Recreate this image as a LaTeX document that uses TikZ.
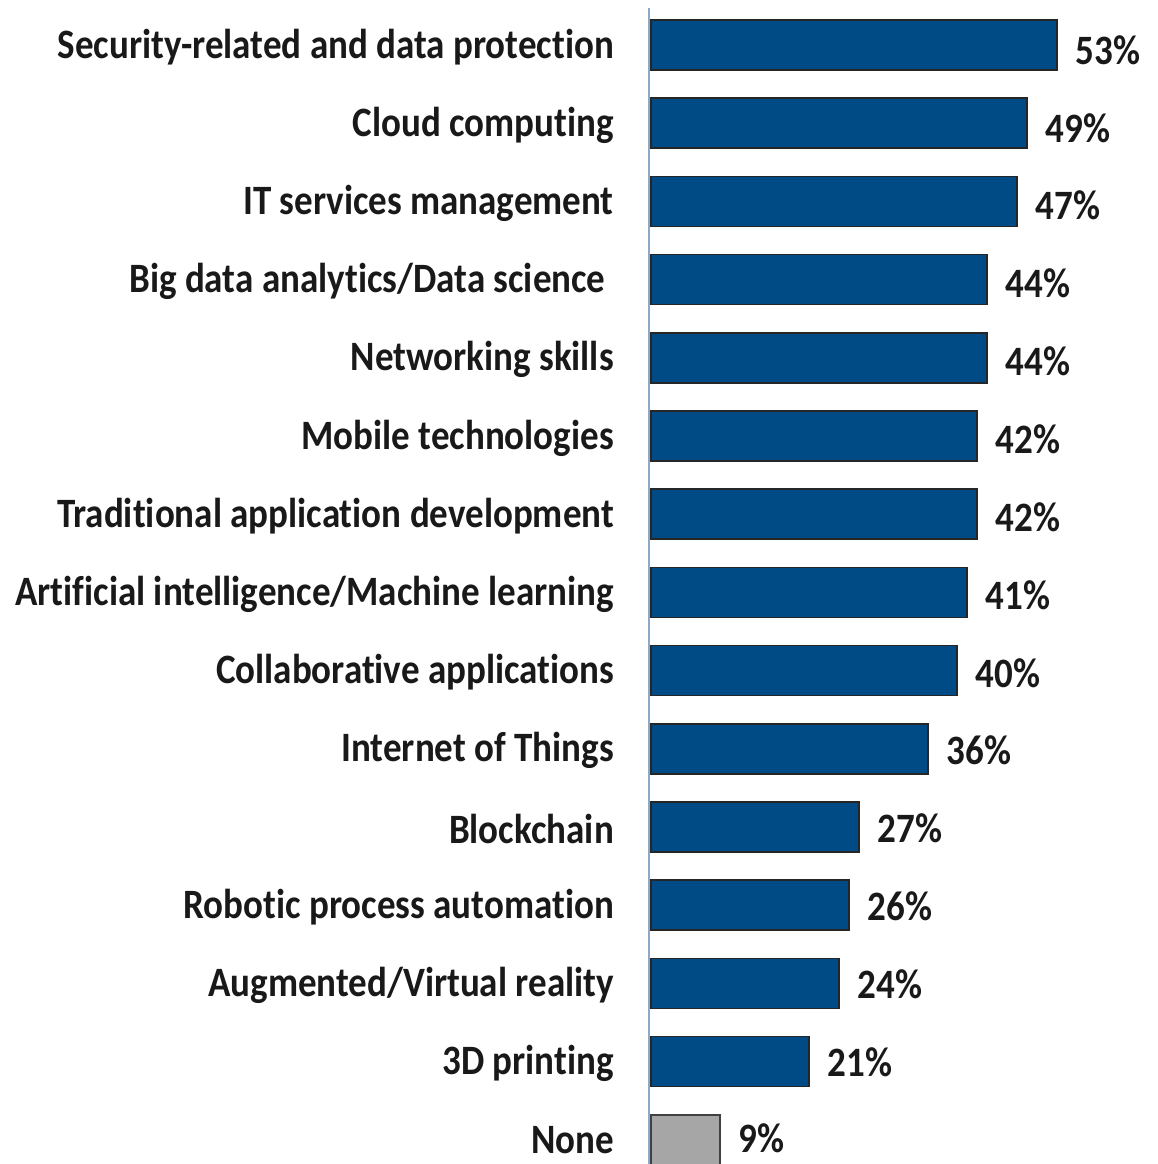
\documentclass[tikz,border=0pt]{standalone}
\usepackage{graphicx}
\usepackage{fontspec}
\setmainfont{Carlito}[Ligatures=NoCommon]
\newcommand{\vst}[1]{\scalebox{1}[1.13]{#1}}
\begin{document}
\begin{tikzpicture}[x=1pt,y=-1pt,
  lbl/.style={anchor=east,inner sep=0pt,font=\bfseries\fontsize{37}{37}\selectfont,text=black!90},
  pct/.style={anchor=west,inner sep=0pt,font=\bfseries\fontsize{37}{37}\selectfont,text=black!90},
  bar/.style={draw=black!85,line width=1.6pt,fill=barblue,anchor=west,inner sep=0pt,minimum height=50pt},
  nbar/.style={draw=black!75,line width=1.6pt,fill=black!35,anchor=west,inner sep=0pt,minimum height=50pt}]
\definecolor{barblue}{RGB}{0,74,134}
\definecolor{axisc}{RGB}{140,170,200}
\useasboundingbox (0,0) rectangle (1158,1164);
\foreach \i/\t/\v/\xe in {0/{Security-related and data protection}/53/1056,
  1/{Cloud computing}/49/1026,
  2/{IT services management}/47/1016,
  3/{Big data analytics/Data science\ }/44/986,
  4/{Networking skills}/44/986,
  5/{Mobile technologies}/42/976,
  6/{Traditional application development}/42/976,
  7/{Artificial intelligence/Machine learning}/41/966,
  8/{Collaborative applications}/40/956,
  9/{Internet of Things}/36/927,
  10/{Blockchain}/27/858,
  11/{Robotic process automation}/26/848,
  12/{Augmented/Virtual reality}/24/838,
  13/{3D printing}/21/808}{
  \pgfmathsetmacro\yc{45+78.2*\i}
  \pgfmathsetmacro\off{5-0.35*\i}
  \pgfmathsetmacro\bw{\xe-650}
  \node[lbl] (l\i) at (614,\yc+2) {\vst{\t}};
  \node[bar,minimum width=\bw pt] (b\i) at (650,\yc) {};
  \node[pct] (p\i) at ([xshift=18pt,yshift=-\off pt]b\i.east) {\vst{\v\%}};
}
\pgfmathsetmacro\yc{45+78.2*14}
\node[lbl] (l14) at (614,\yc) {\vst{None}};
\node[nbar,minimum width=69pt] (b14) at (650,\yc) {};
\node[pct] (p14) at ([xshift=18pt,yshift=1.5pt]b14.east) {\vst{9\%}};
\draw[axisc,line width=2pt] (649,8) coordinate (ax1) -- (649,1164) coordinate (ax2);
\end{tikzpicture}
\end{document}
